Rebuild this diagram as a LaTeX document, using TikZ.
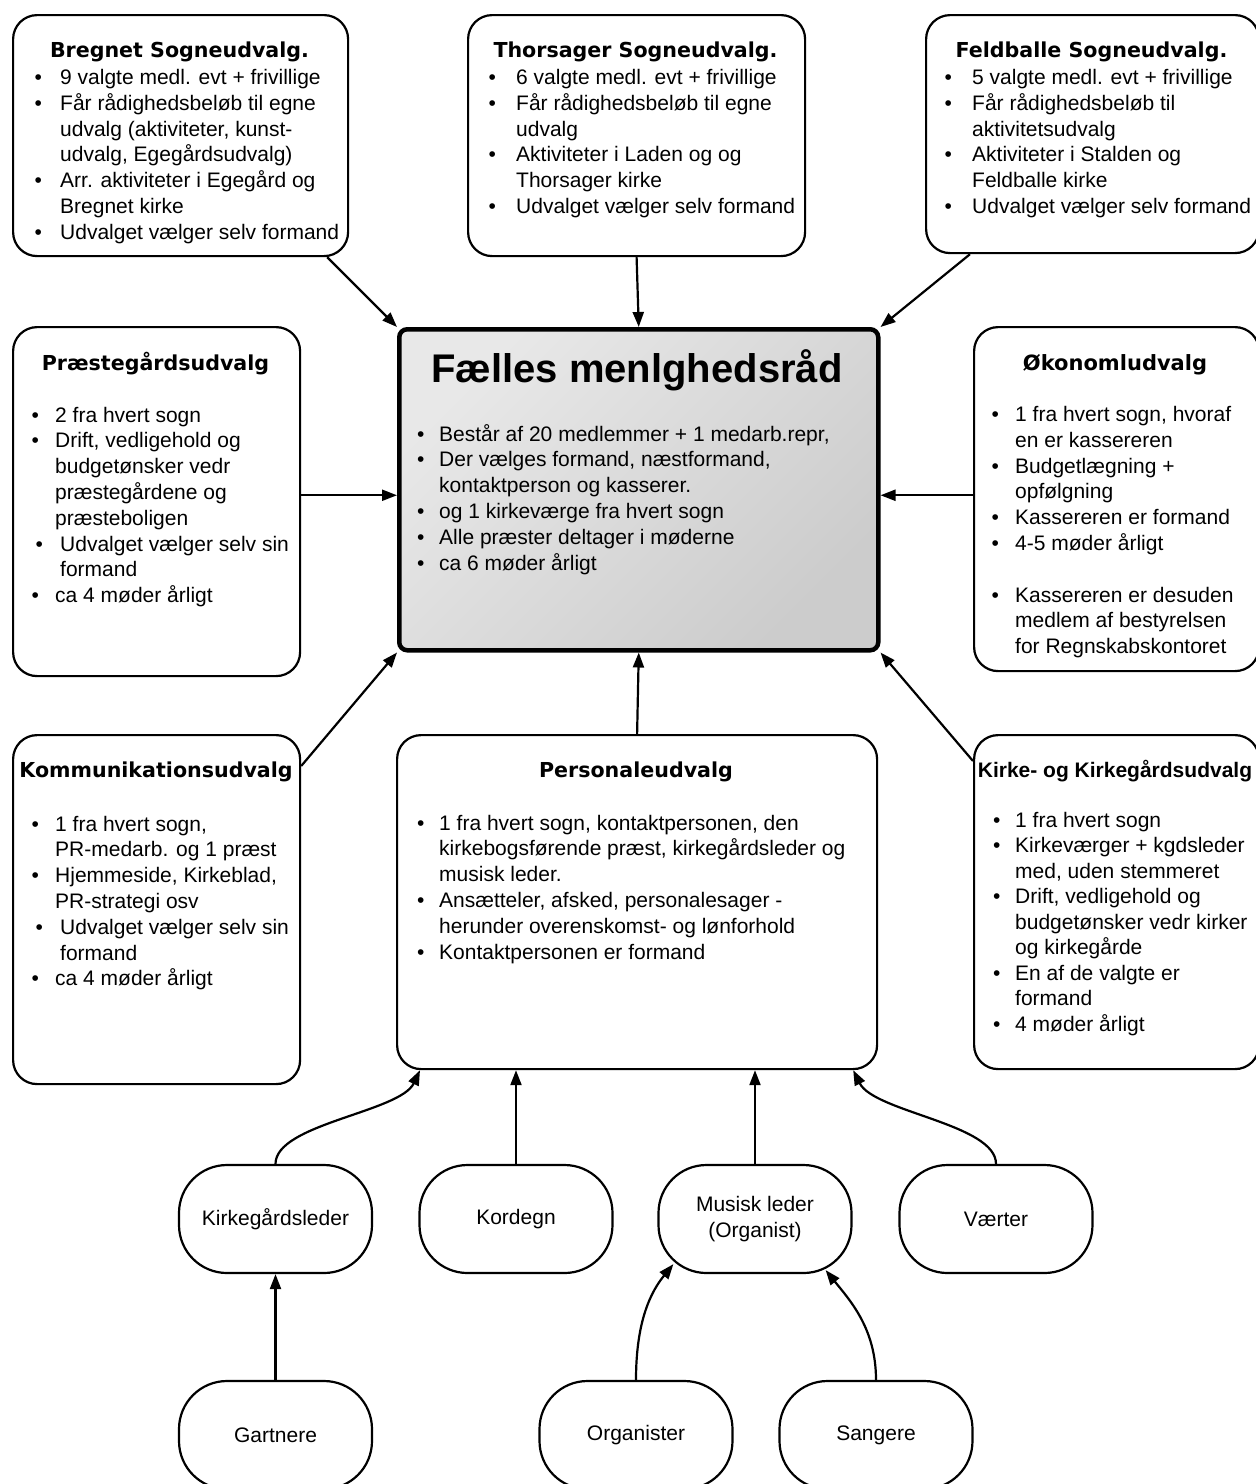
\documentclass[tikz,border=0pt]{standalone}
\usepackage{fontspec}
\setmainfont{Liberation Sans}
\newfontfamily\titelfont{DejaVu Sans}
\usetikzlibrary{arrows.meta}
\usetikzlibrary{calc}
\tikzset{udvalg/.style={draw, line width=2.2pt, rounded corners=24pt, anchor=north west, inner sep=0pt},
 titel/.style={font={\titelfont\bfseries\fontsize{20.6}{24}\selectfont}, anchor=base, inner sep=0pt},
 liste/.style={font={\fontsize{21}{25.8}\selectfont}, anchor=base west, inner sep=0pt},
 rolle/.style={draw, line width=2.2pt, rounded corners=48pt, minimum width=193pt, minimum height=108pt,
  inner sep=0pt, align=center, font={\fontsize{21}{26}\selectfont}},
 pil/.style={line width=2.2pt, -{Triangle[length=15pt,width=11pt]}},
 }
\newcommand{\punkter}[2][25pt]{\begin{tabular}[t]{@{}p{#1}@{}l@{}}#2\end{tabular}}

\begin{document}
\begin{tikzpicture}[x=1pt, y=-1pt]
        \useasboundingbox (0,0) rectangle (1256,1484);
        \clip (0,0) rectangle (1256,1484);
        \node[udvalg, minimum width=335pt, minimum height=241pt] (bregnet) at (12,14) {};
        \node[udvalg, minimum width=337pt, minimum height=241pt] (thorsager) at (467,14) {};
        \node[udvalg, minimum width=333pt, minimum height=238pt] (feldballe) at (925,14) {};
        \node[udvalg, minimum width=287pt, minimum height=349pt] (praeste) at (12,326) {};
        \node[udvalg, minimum width=285pt, minimum height=344pt] (oekonom) at (973,326) {};
        \node[udvalg, minimum width=287pt, minimum height=349pt] (kommunikation) at (12,734) {};
        \node[udvalg, minimum width=480pt, minimum height=334pt] (personale) at (396,734) {};
        \node[udvalg, minimum width=285pt, minimum height=334pt] (kirke) at (973,734) {};
        \node[udvalg, line width=4.5pt, rounded corners=8pt, minimum width=479pt, minimum height=321pt,
          top color=black!9, bottom color=black!20, shading angle=45] (faelles) at (397,327) {};

        \node[titel] at (179.5,57) {Bregnet Sogneudvalg.};
        \node[liste] at (34.5,84.5) {\punkter[25.5pt]{\textbullet & 9 valgte medl. evt + frivillige\\
          \textbullet & Får rådighedsbeløb til egne\\ & udvalg (aktiviteter, kunst-\\ & udvalg, Egegårdsudvalg)\\
          \textbullet & Arr. aktiviteter i Egegård og\\ & Bregnet kirke\\
          \textbullet & Udvalget vælger selv formand}};
        \node[titel] at (635.5,57) {Thorsager Sogneudvalg.};
        \node[liste] at (488.5,84.5) {\punkter[27.5pt]{\textbullet & 6 valgte medl. evt + frivillige\\
          \textbullet & Får rådighedsbeløb til egne\\ & udvalg\\
          \textbullet & Aktiviteter i Laden og og\\ & Thorsager kirke\\
          \textbullet & Udvalget vælger selv formand}};
        \node[titel] at (1091.5,57) {Feldballe Sogneudvalg.};
        \node[liste] at (944.5,84.5) {\punkter[27.5pt]{\textbullet & 5 valgte medl. evt + frivillige\\
          \textbullet & Får rådighedsbeløb til\\ & aktivitetsudvalg\\
          \textbullet & Aktiviteter i Stalden og\\ & Feldballe kirke\\
          \textbullet & Udvalget vælger selv formand}};

        \node[titel] at (155.5,370) {Præstegårdsudvalg};
        \node[liste] at (31.3,422) {\punkter[23.7pt]{\textbullet & 2 fra hvert sogn\\
          \textbullet & Drift, vedligehold og\\ & budgetønsker vedr\\ & præstegårdene og\\ & præsteboligen\\
          \hspace*{4pt}\textbullet & \hspace*{5pt}Udvalget vælger selv sin\\ & \hspace*{5pt}formand\\
          \textbullet & ca 4 møder årligt}};
        \node[titel, font={\titelfont\bfseries\fontsize{21}{24}\selectfont}] at (1115,370) {Økonomludvalg};
        \node[liste] at (991.3,421.5) {\punkter[23.7pt]{\textbullet & 1 fra hvert sogn, hvoraf\\ & en er kassereren\\
          \textbullet & Budgetlægning +\\ & opfølgning\\
          \textbullet & Kassereren er formand\\
          \textbullet & 4-5 møder årligt\\ & \\
          \textbullet & Kassereren er desuden\\ & medlem af bestyrelsen\\ & for Regnskabskontoret}};

        \node[titel, font={\bfseries\fontsize{40}{48}\selectfont}] at (637,382) {Fælles menlghedsråd};
        \node[liste, font={\fontsize{21}{25.9}\selectfont}] at (417,441) {\punkter[22pt]{\textbullet & Består af 20 medlemmer + 1 medarb.repr,\\
          \textbullet & Der vælges formand, næstformand,\\ & kontaktperson og kasserer.\\
          \textbullet & og 1 kirkeværge fra hvert sogn\\
          \textbullet & Alle præster deltager i møderne\\
          \textbullet & ca 6 møder årligt}};

        \node[titel] at (156,777) {Kommunikationsudvalg};
        \node[liste] at (31.3,831) {\punkter[23.7pt]{\textbullet & 1 fra hvert sogn,\\ & PR-medarb. og 1 præst\\
          \textbullet & Hjemmeside, Kirkeblad,\\ & PR-strategi osv\\
          \hspace*{4pt}\textbullet & \hspace*{5pt}Udvalget vælger selv sin\\ & \hspace*{5pt}formand\\
          \textbullet & ca 4 møder årligt}};
        \node[titel] at (636,777) {Personaleudvalg};
        \node[liste, font={\fontsize{21}{25.9}\selectfont}] at (417,830) {\punkter[22pt]{\textbullet & 1 fra hvert sogn, kontaktpersonen, den\\
          & kirkebogsførende præst, kirkegårdsleder og\\ & musisk leder.\\
          \textbullet & Ansætteler, afsked, personalesager -\\ & herunder overenskomst- og lønforhold\\
          \textbullet & Kontaktpersonen er formand}};
        \node[titel, font={\bfseries\fontsize{21}{25}\selectfont}] at (1115,777) {Kirke- og Kirkegårdsudvalg};
        \node[liste, font={\fontsize{21}{25.5}\selectfont}] at (993,827) {\punkter[22pt]{\textbullet & 1 fra hvert sogn\\
          \textbullet & Kirkeværger + kgdsleder\\ & med, uden stemmeret\\
          \textbullet & Drift, vedligehold og\\ & budgetønsker vedr kirker\\ & og kirkegårde\\
          \textbullet & En af de valgte er\\ & formand\\
          \textbullet & 4 møder årligt}};

        \node[rolle] (kgl) at (275.5,1219) {Kirkegårdsleder};
        \node[rolle] (kordegn) at (516,1219) {Kordegn};
        \node[rolle] (musik) at (755,1219) {Musisk leder\\(Organist)};
        \node[rolle] (vaerter) at (996,1219) {Værter};
        \node[rolle] (gartnere) at (275.5,1435) {Gartnere};
        \node[rolle] (organister) at (636,1435) {Organister};
        \node[rolle] (sangere) at (876,1435) {Sangere};

        \draw[pil] ([xshift=-22pt]bregnet.south east) -- (faelles.north west);
        \draw[pil] (thorsager.south) -- (faelles.north);
        \draw[pil] ([xshift=45pt]feldballe.south west) -- (faelles.north east);
        \draw[pil] ([yshift=-5.5pt]faelles.west -| praeste.east) -- ([yshift=-5.5pt]faelles.west);
        \draw[pil] ([yshift=-5.5pt]faelles.east -| oekonom.west) -- ([yshift=-5.5pt]faelles.east);
        \draw[pil] ([yshift=-32pt]kommunikation.north east) -- (faelles.south west);
        \draw[pil] (personale.north) -- (faelles.south);
        \draw[pil] ([yshift=-27pt]kirke.north west) -- (faelles.south east);

        \draw[pil] (kgl.north) .. controls ($(kgl.north)+(0,-40)$) and ($(personale.south west)+(4,42)$)
          .. ([xshift=24pt]personale.south west);
        \draw[pil] (kordegn.north) -- (kordegn.north |- personale.south);
        \draw[pil] (musik.north) -- (musik.north |- personale.south);
        \draw[pil] (vaerter.north) .. controls ($(vaerter.north)+(0,-40)$) and ($(personale.south east)+(-4,42)$)
          .. ([xshift=-25pt]personale.south east);
        \draw[pil] (gartnere.north) -- (kgl.south);
        \draw[pil] (organister.north) .. controls ($(organister.north)+(0,-60)$) and ($(musik.south west)+(-6,17)$)
          .. ([xshift=16pt,yshift=10pt]musik.south west);
        \draw[pil] (sangere.north) .. controls ($(sangere.north)+(0,-51)$) and ($(musik.south east)+(-2,27)$)
          .. ([xshift=-27pt,yshift=4pt]musik.south east);
    \end{tikzpicture}
\end{document}
